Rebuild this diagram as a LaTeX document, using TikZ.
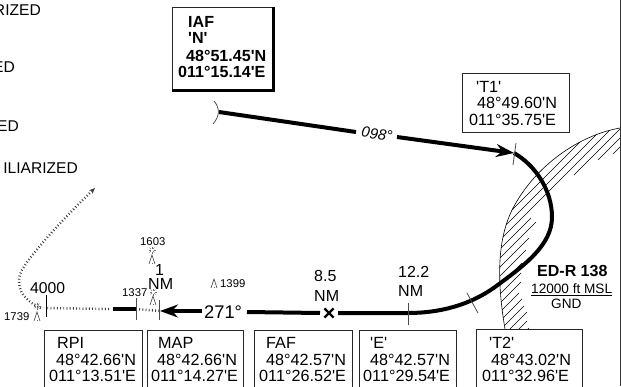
\documentclass[tikz,border=0pt]{standalone}
\usepackage{fontspec}
\newfontfamily\chartfont{Liberation Sans}
\usetikzlibrary{arrows.meta,shapes.misc}
\tikzset{
  txt/.style={anchor=base west,inner sep=0pt,font=\chartfont\fontsize{16.2}{17}\selectfont},
  boldtxt/.style={txt,font=\chartfont\bfseries\fontsize{16.1}{17}\selectfont},
  smalltxt/.style={txt,font=\chartfont\fontsize{11.3}{12}\selectfont},
  fixbox/.style={draw=black!85,line width=0.9pt,fill=white,anchor=north west,inner sep=0pt,minimum height=70pt},
  track/.style={line width=4pt},
  thintick/.style={line width=0.8pt,black!70},
  dots/.style={line width=2.4pt,black!75,dash pattern=on 0.9pt off 2.3pt},
  hatch/.style={line width=0.6pt},
  trackhead/.style={-{Stealth[length=18pt,width=13pt,inset=6pt]}},
  ray/.style={line width=0.5pt,black!55}
}
\newcommand{\obstacle}[2]{
  \draw[line width=0.6pt,black!80] (#1-3,#2) -- (#1,#2-9) -- (#1+3,#2);
  \draw[line width=0.6pt,black!60] (#1,#2-1) -- (#1,#2);
}
\newcommand{\lighted}[2]{
  \foreach \a in {0,45,...,315} {
    \draw[ray] ([shift={(\a:1.5)}]#1,#2) -- ([shift={(\a:3.5)}]#1,#2);
  }
}
\begin{document}
\begin{tikzpicture}[x=1pt,y=-1pt]
  \path[use as bounding box,clip] (0,0) rectangle (621,386);
  \fill[white] (0,0) rectangle (621,386);

  % margin words
  \node[txt,anchor=base east,font=\chartfont\fontsize{15.6}{16}\selectfont] (word1) at (41,15) {RIZED};
  \node[txt,anchor=base east,font=\chartfont\fontsize{15.6}{16}\selectfont] (word2) at (15,72) {ED};
  \node[txt,anchor=base east,font=\chartfont\fontsize{15.6}{16}\selectfont] (word3) at (19,131) {ED};
  \node[txt,anchor=base east,font=\chartfont\fontsize{15.6}{16}\selectfont] (word4) at (78,173) {ILIARIZED};
  \draw[line width=1pt,black!80] (620,0) -- (620,386);

  % restricted area
  \begin{scope}
    \clip (620,128) .. controls (580,135) and (535,165) .. (512,210)
      .. controls (500,235) and (495,270) .. (505,329) -- (620,329) -- cycle;
    \foreach \s/\xa/\xb in {722/480/620,731/480/620,740/480/620,749/574/620,749/480/531,
      758/598/620,758/480/536,767/613/620,767/480/529,776/480/526,785/480/522,794/480/521,
      803/480/521,812/480/519,821/480/522,830/480/524,839/480/527,848/480/527,857/480/529} {
      \draw[hatch] (\xa,\s-\xa) -- (\xb,\s-\xb);
    }
  \end{scope}
  \draw[hatch] (620,128) .. controls (580,135) and (535,165) .. (512,210)
    .. controls (500,235) and (495,270) .. (505,329);

  \node[boldtxt,font=\chartfont\bfseries\fontsize{16}{17}\selectfont] (zone) at (537,276) {ED-R 138};
  \node[txt,font=\chartfont\fontsize{13.6}{14}\selectfont] (zonetop) at (531,293) {12000 ft MSL};
  \node[txt,font=\chartfont\fontsize{13.6}{14}\selectfont] (zonelow) at (551,308) {GND};
  \coordinate (barl) at (531,295.5);
  \coordinate (barr) at (612,295.5);
  \draw[line width=0.7pt] (barl) -- (barr);

  % fixes on the track
  \coordinate (n) at (219,112);
  \coordinate (n098) at (356,132);
  \coordinate (t098) at (397,137);
  \coordinate (t1) at (514,153);
  \coordinate (t2) at (473,303);
  \coordinate (e) at (408,313);
  \coordinate (fafr) at (338,313);
  \node[draw,cross out,line width=2.2pt,minimum size=7pt,inner sep=0pt] (faf) at (329,313) {};
  \coordinate (fafl) at (320,313);
  \coordinate (l271) at (247,312);
  \coordinate (r271) at (202,311);
  \coordinate (map) at (160,311);
  \coordinate (mapl) at (136,309);
  \coordinate (mapm) at (113,309);
  \coordinate (rpi) at (46,308);

  \draw[line width=0.7pt,black!75] (214,101) .. controls (220,108) and (220,116) .. (213,124);
  \draw[track] (n) -- (n098);
  \draw[track,trackhead] (t098) -- (t1);
  \draw[track] (t1) .. controls (535,165) and (552,190) .. (552,217)
    .. controls (552,245) and (525,265) .. (495,287)
    .. controls (470,305) and (440,313) .. (e) -- (fafr);
  \draw[track] (fafl) -- (l271);
  \draw[track,trackhead] (r271) -- (map);
  \draw[track] (mapl) -- (mapm);
  \draw[dots] (mapm) ++(-4,0) -- (rpi);
  \draw[dots] (mapl) -- (map);
  \draw[dots,-{Stealth[length=6pt,width=5pt]}] (41,308) .. controls (22,300) and (14,285) .. (22,270)
    .. controls (32,252) and (70,212) .. (95,188);

  % ticks
  \draw[thintick] (516,143) -- (513,165);
  \draw[thintick] (467,293) -- (478,313);
  \draw[thintick] (408,303) -- (408,325);
  \draw[thintick] (159,300) -- (159,320);
  \draw[thintick] (136,298) -- (136,320);
  \draw[line width=0.8pt] (46,295) -- (46,317);

  % labels along the track
  \node[txt,anchor=center,rotate=-8,font=\chartfont\itshape\fontsize{15}{16}\selectfont] (crs098) at (377,134) {098°};
  \node[txt,font=\chartfont\fontsize{18.3}{19}\selectfont] (crs271) at (204,318) {271°};
  \node[txt,font=\chartfont\fontsize{15.7}{16}\selectfont] (alt) at (30,293) {4000};
  \node[txt,font=\chartfont\fontsize{16}{17}\selectfont] (d1a) at (155,275) {1};
  \node[txt,font=\chartfont\fontsize{16}{17}\selectfont] (d1b) at (148,289) {NM};
  \node[txt,font=\chartfont\fontsize{16}{17}\selectfont] (d8a) at (314,281) {8.5};
  \node[txt,font=\chartfont\fontsize{16}{17}\selectfont] (d8b) at (314,301) {NM};
  \node[txt,font=\chartfont\fontsize{16}{17}\selectfont] (d12a) at (398,277) {12.2};
  \node[txt,font=\chartfont\fontsize{16}{17}\selectfont] (d12b) at (398,296) {NM};

  % obstacles
  \node[smalltxt] (ob1603) at (140,245) {1603};
  \obstacle{152}{264}
  \lighted{152}{250}
  \node[smalltxt] (ob1399) at (220,287) {1399};
  \obstacle{214}{288}
  \node[smalltxt] (ob1337) at (122,296) {1337};
  \obstacle{153}{305}
  \lighted{153}{292}
  \node[smalltxt] (ob1739) at (4,320) {1739};
  \obstacle{37}{321}
  \lighted{37}{306}

  % IAF
  \node[fixbox,minimum width=101pt,minimum height=83pt] (iaf) at (172,7) {};
  \draw[line width=3pt] (iaf.north east) -- (iaf.south east) -- (iaf.south west);
  \node[boldtxt] (iaf1) at (188,27) {IAF};
  \node[boldtxt] (iaf2) at (188,43) {'N'};
  \node[boldtxt] (iaf3) at (186,61) {48°51.45'N};
  \node[boldtxt] (iaf4) at (178,77) {011°15.14'E};

  % T1
  \node[fixbox,minimum width=107pt,minimum height=59pt] (t1box) at (462,73) {};
  \node[txt] (t1a) at (476,92) {'T1'};
  \node[txt] (t1b) at (477,108) {48°49.60'N};
  \node[txt] (t1c) at (469,125) {011°35.75'E};

  % T2
  \node[fixbox,minimum width=106pt] (t2box) at (476,329) {};
  \node[txt] (t2a) at (489,348) {'T2'};
  \node[txt] (t2b) at (491,365) {48°43.02'N};
  \node[txt] (t2c) at (482,381) {011°32.96'E};

  % E
  \node[fixbox,minimum width=97pt] (ebox) at (359,330) {};
  \node[txt] (ea) at (370,348) {'E'};
  \node[txt] (eb) at (370,365) {48°42.57'N};
  \node[txt] (ec) at (363,381) {011°29.54'E};

  % FAF
  \node[fixbox,minimum width=98pt] (fafbox) at (254,330) {};
  \node[txt] (fafa) at (266,348) {FAF};
  \node[txt] (fafb) at (266,365) {48°42.57'N};
  \node[txt] (fafc) at (259,381) {011°26.52'E};

  % MAP
  \node[fixbox,minimum width=96pt] (mapbox) at (147,330) {};
  \node[txt] (mapa) at (158,348) {MAP};
  \node[txt] (mapb) at (157,365) {48°42.66'N};
  \node[txt] (mapc) at (151,381) {011°14.27'E};

  % RPI
  \node[fixbox,minimum width=98pt] (rpibox) at (44,330) {};
  \node[txt] (rpia) at (57,348) {RPI};
  \node[txt] (rpib) at (56,365) {48°42.66'N};
  \node[txt] (rpic) at (49,381) {011°13.51'E};
\end{tikzpicture}
\end{document}
